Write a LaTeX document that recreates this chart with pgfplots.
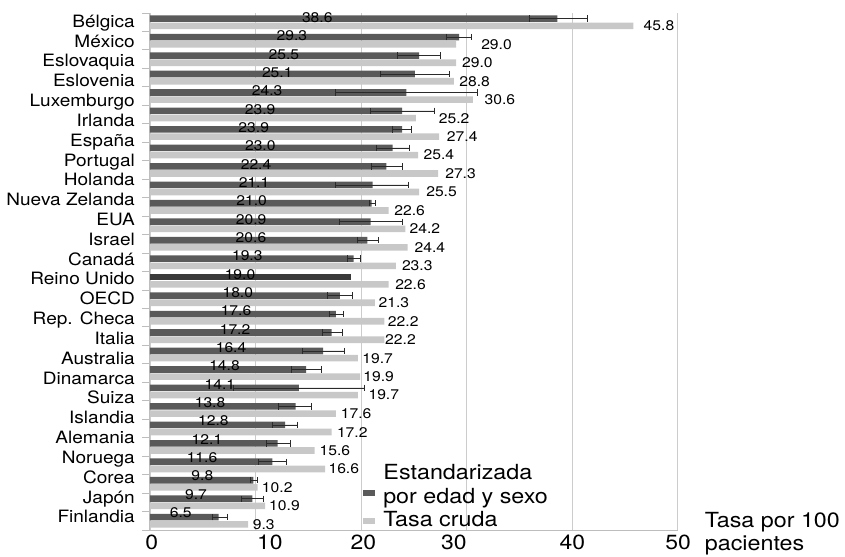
\documentclass[border=0pt]{standalone}
\usepackage{pgfplots}
\pgfplotsset{compat=1.18}
\usepackage{pgfplotstable}
\usepackage{fontspec}
\setmainfont{TeX Gyre Heros}[FakeStretch=1.12]

\definecolor{stdbar}{HTML}{5A5A5A}
\definecolor{ukbar}{HTML}{3A3A3A}
\definecolor{crudebar}{HTML}{C8C8C8}
\definecolor{gridgray}{HTML}{CCCCCC}
\definecolor{axisgray}{HTML}{BDBDBD}
\definecolor{errline}{HTML}{2A2A2A}

\newcommand\catfont{\fontsize{17bp}{20bp}\selectfont}
\newcommand\valfont{\fontsize{14bp}{16bp}\selectfont}
\newcommand\tickfont{\fontsize{20.5bp}{24bp}\selectfont}
\newcommand\legfont{\fontsize{20.8bp}{23.5bp}\selectfont}

% p: row position (27 = top); std: age/sex standardised rate; crude: crude rate
% ep/em: upper/lower error of the standardised rate; sx/cx: label positions
\pgfplotstableread{
p   std   crude  ep    em    sx     cx
27  38.6  45.8   2.8   2.65  15.85  46.76
26  29.3  29.0   1.1   1.2   13.45  31.37
25  25.5  29.0   2.05  2.1   12.68  29.55
24  25.1  28.8   3.3   3.3   12.06  29.29
23  24.3  30.6   6.7   6.7   11.10  31.69
22  23.9  25.2   3.0   3.0   10.43  27.35
21  23.9  27.4   0.9   0.9   9.83   28.12
20  23.0  25.4   1.6   1.6   10.45  25.91
19  22.4  27.3   1.5   1.4   10.05  27.96
18  21.1  25.5   3.4   3.5   9.86   26.16
17  21.0  22.6   0.3   0.2   9.63   23.13
16  20.9  24.2   3.0   3.0   9.58   24.58
15  20.6  24.4   1.0   0.95  9.57   25.05
14  19.3  23.3   0.6   0.6   9.22   23.86
13  19.0  22.6   0     0     8.53   23.22
12  18.0  21.3   1.2   1.2   8.32   21.64
11  17.6  22.2   0.7   0.6   8.15   22.53
10  17.2  22.2   1.0   0.9   8.06   22.27
9   16.4  19.7   2.0   2.0   7.68   20.10
8   14.8  19.9   1.4   1.4   7.06   20.20
7   14.1  19.7   6.2   6.2   6.62   20.69
6   13.8  17.6   1.5   1.6   5.69   18.07
5   12.8  17.2   1.2   1.2   6.00   17.70
4   12.1  15.6   1.2   1.1   5.40   16.05
3   11.6  16.6   1.35  1.3   4.93   16.90
2   9.8   10.2   0.4   0.3   4.96   10.59
1   9.7   10.9   1.05  1.05  4.36   11.28
0   6.5   9.3    0.8   0.6   2.91   9.73
}\rates

\begin{document}
\begin{tikzpicture}
\useasboundingbox (-150bp,-27bp) rectangle (695bp,530bp);
\begin{axis}[
  scale only axis, width=528.23bp, height=517bp,
  xmin=0, xmax=50.05, ymin=-0.5, ymax=27.5,
  clip=false,
  axis x line=bottom, axis y line=left,
  axis line style={draw=axisgray, line width=1bp, -},
  /pgf/number format/assume math mode=true,
  xtick={0,10,20,30,40,50}, xticklabels={},
  xmajorgrids, grid style={draw=gridgray, line width=0.9bp},
  xtick style={draw=none},
  extra x ticks={0.16,11.37,20.21,28.8,40.03,50.03},
  extra x tick labels={0,10,20,30,40,50},
  extra x tick style={grid=none, major tick length=0pt,
    xticklabel style={anchor=north, inner sep=0pt, yshift=-5bp, font=\tickfont}},
  ytick={-0.5,0.5,...,27.5}, yticklabels={},
  ytick style={draw=axisgray, line width=0.9bp},
  tick align=outside, major tick length=8bp,
  extra y ticks={27.056,25.983,24.909,23.836,22.762,21.689,20.615,19.542,18.468,17.395,16.321,15.248,14.174,13.101,12.027,10.954,9.880,8.807,7.733,6.660,5.586,4.513,3.439,2.366,1.292,0.219},
  extra y tick labels={Bélgica,México,Eslovaquia,Eslovenia,Luxemburgo,Irlanda,España,Portugal,Holanda,Nueva Zelanda,EUA,Israel,Canadá,Reino Unido,OECD,Rep. Checa,Italia,Australia,Dinamarca,Suiza,Islandia,Alemania,Noruega,Corea,Japón,Finlandia},
  extra y tick style={major tick length=0pt,
    yticklabel style={anchor=base east, inner sep=0pt, xshift=-15bp, yshift=-6.1bp, font=\catfont}},
  xlabel={Tasa por 100\\pacientes},
  xlabel style={at={(rel axis cs:1,0)}, anchor=north west, align=left, inner sep=0pt,
    xshift=26.5bp, yshift=18bp, font=\legfont},
  legend style={at={(axis cs:20.15,-0.565)}, anchor=south west, draw=none, fill=none,
    inner sep=0pt, outer sep=0pt, row sep=4bp, column sep=8.3bp, font=\legfont,
    nodes={inner sep=0pt, text height=15bp, text depth=4.5bp}},
  legend cell align=left,
]
% grid line at 50, drawn as a thin filled strip
\fill[gridgray] (axis cs:49.957,-0.5) rectangle (axis cs:50.043,27.5);
% standardised rate with confidence interval (upper bar of each row)
\addplot[xbar, bar width=6.6bp, bar shift=0pt, fill=stdbar, draw=none,
  skip coords between index={14}{15},
  legend image code/.code={\fill[stdbar] (0bp,2bp) rectangle (12.3bp,8bp);},
  error bars/.cd, x dir=both, x explicit, error mark=|,
  error bar style={draw=errline, line width=0.6bp},
  error mark options={draw=errline, line width=0.6bp, mark size=3.2bp}]
  table[x=std, y expr={\thisrow{p}+0.195}, x error plus=ep, x error minus=em] {\rates};
\addlegendentry{por edad y sexo}
% crude rate (lower bar of each row)
\addplot[xbar, bar width=6.6bp, bar shift=0pt, fill=crudebar, draw=none,
  legend image code/.code={\fill[crudebar] (0bp,-3bp) rectangle (12.3bp,3bp);}]
  table[x=crude, y expr={\thisrow{p}-0.195}] {\rates};
\addlegendentry{Tasa cruda}
% United Kingdom: no interval reported
\addplot[xbar, bar width=6.6bp, bar shift=0pt, fill=ukbar, draw=none, forget plot]
  coordinates {(19.0,13.195)};
% value labels
\addplot[forget plot, draw=none, point meta=explicit symbolic, nodes near coords,
  every node near coord/.append style={anchor=center, inner sep=0pt, font=\valfont, text=black}]
  table[x=sx, y expr={\thisrow{p}+0.438-0.007*\thisrow{p}}, meta=std] {\rates};
\addplot[forget plot, draw=none, point meta=explicit symbolic, nodes near coords,
  every node near coord/.append style={anchor=west, inner sep=0pt, font=\valfont, text=black}]
  table[x=cx, y expr={\thisrow{p}-0.195}, meta=crude] {\rates};
\node[anchor=base west, inner sep=0pt, font=\legfont] at (axis cs:22.105,2.246) {Estandarizada};
\end{axis}
\end{tikzpicture}
\end{document}
